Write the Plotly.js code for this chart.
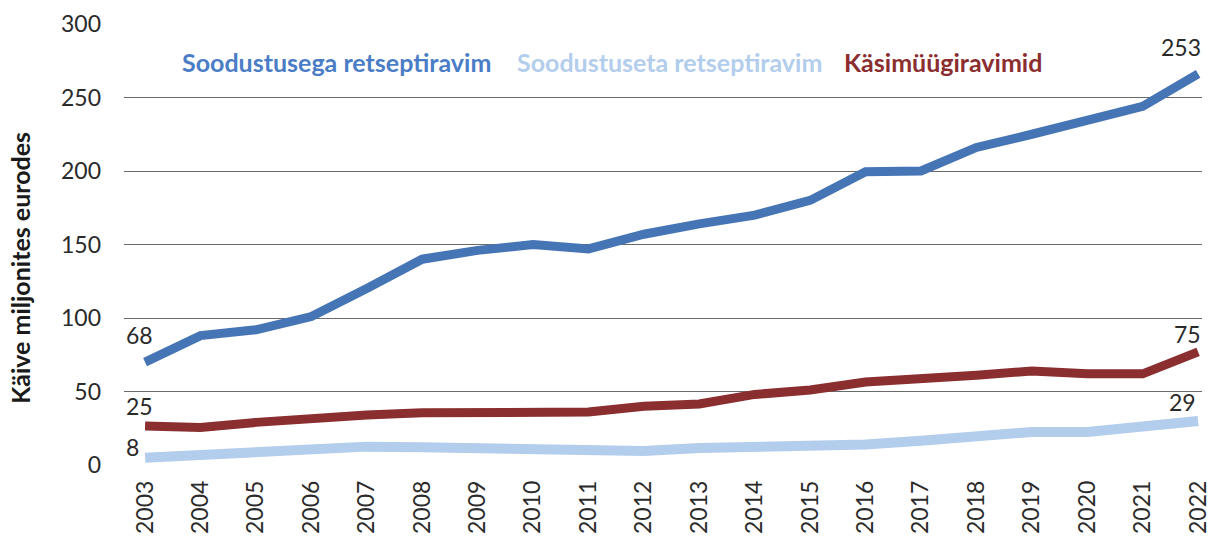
<!DOCTYPE html>
<html>
<head>
<meta charset="utf-8">
<script src="https://cdn.plot.ly/plotly-3.0.1.min.js"></script>
<style>html,body{margin:0;padding:0;background:#fff;}#chart{width:1222px;height:541px;}</style>
</head>
<body>
<div id="chart"></div>
<script>
const years = ["2003","2004","2005","2006","2007","2008","2009","2010","2011","2012","2013","2014","2015","2016","2017","2018","2019","2020","2021","2022"];
const soodustusega = [70, 88, 92, 101, 120, 140, 146, 150, 147, 157, 164, 170, 180, 199.5, 200, 216, 225, 235, 244, 266];
const soodustuseta = [5, 6.5, 8.5, 11, 12.5, 12, 11, 10, 9.5, 9.5, 11.5, 12, 13, 14, 16.5, 19.5, 22.5, 22.5, 27, 30];
const kasimuugi = [26.5, 25.5, 29, 32, 34, 35.5, 36, 36, 36, 40, 41.5, 48, 51, 56.5, 58, 61, 64, 62, 62, 77];
const seriesNames = ["Soodustusega retseptiravim", "Soodustuseta retseptiravim", "Käsimüügiravimid"];
const firstLabels = ["68", "8", "25"];
const lastLabels = ["253", "29", "75"];
const yTickVals = [0, 50, 100, 150, 200, 250, 300];
const yTitle = "Käive miljonites eurodes";

const colors = ["#4675B6", "#B3CDEC", "#8B2E2F"];
const textColors = ["#4A7DC6", "#B3CDEC", "#8B2E2F"];
const allSeries = [soodustusega, soodustuseta, kasimuugi];
const FONT = "Lato, 'Open Sans', sans-serif";

const traces = allSeries.map((s, i) => ({
  x: years, y: s, type: "scatter", mode: "lines", name: seriesNames[i],
  line: {color: colors[i], width: i === 1 ? 10 : 9, shape: "linear"},
  hoverinfo: "skip"
}));

const n = years.length - 1;
const firstShift = [[-21, 27], [-21, 11], [-21, 20]];
const lastShift = [[5, 27], [0, 18.5], [5, 18]];
const labelFont = {family: FONT, size: 23, color: "#2a2a2a"};
const annotations = [];
allSeries.forEach((s, i) => {
  annotations.push({x: 0, y: s[0], xref: "x", yref: "y", text: firstLabels[i], showarrow: false,
    xanchor: "left", yanchor: "middle",
    xshift: firstShift[i][0], yshift: firstShift[i][1], font: labelFont});
  annotations.push({x: n, y: s[n], xref: "x", yref: "y", text: lastLabels[i], showarrow: false,
    xanchor: "right", yanchor: "middle",
    xshift: lastShift[i][0], yshift: lastShift[i][1], font: labelFont});
});
const legendX = [0.052, 0.363, 0.666];
seriesNames.forEach((nm, i) => {
  annotations.push({x: legendX[i], y: 0.914, xref: "paper", yref: "paper", xanchor: "left", yanchor: "middle",
    text: "<b>" + nm + "</b>", showarrow: false, font: {family: FONT, size: 25, color: textColors[i]}});
});
annotations.push({x: -0.0965, y: 0.447, xref: "paper", yref: "paper", xanchor: "center", yanchor: "middle",
  textangle: -90, text: "<b>" + yTitle + "</b>", showarrow: false,
  font: {family: FONT, size: 25, color: "#1a1a1a"}});

const layout = {
  width: 1222, height: 541,
  margin: {l: 124, r: 20, t: 24, b: 76},
  paper_bgcolor: "#fff", plot_bgcolor: "#fff",
  showlegend: false,
  font: {family: FONT, color: "#333"},
  xaxis: {
    type: "category", range: [-0.38, 19.07],
    tickangle: -90, tickfont: {family: FONT, size: 23, color: "#2a2a2a"},
    showgrid: false, zeroline: false, showline: false, ticks: "",
    ticklabelstandoff: 10
  },
  yaxis: {
    range: [0, 300], tickvals: yTickVals, ticktext: yTickVals.map(String),
    tickfont: {family: FONT, size: 23, color: "#2a2a2a"},
    showgrid: true, gridcolor: "#6a6a6a", gridwidth: 1,
    zeroline: false, showline: false, ticks: "",
    ticklabelstandoff: 22
  },
  annotations: annotations
};

Plotly.newPlot("chart", traces, layout, {staticPlot: true, displayModeBar: false});
</script>
</body>
</html>
